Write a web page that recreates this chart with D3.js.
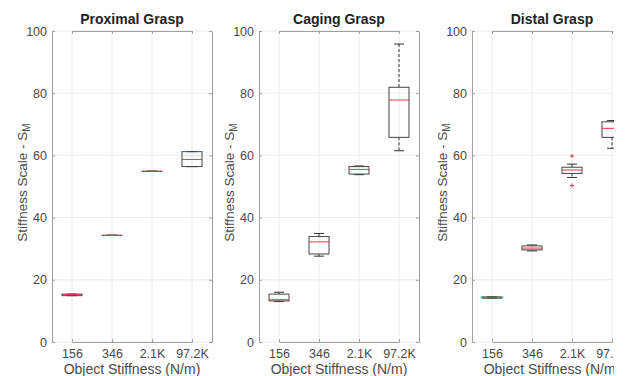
<!DOCTYPE html>
<html><head><meta charset="utf-8">
<script src="https://cdn.jsdelivr.net/npm/d3@7/dist/d3.min.js"></script>
<style>body{margin:0;background:#fff}svg{display:block;font-family:"Liberation Sans",Arial,sans-serif}</style>
</head><body><svg id="c" width="628" height="376"></svg>
<script>
const categories = ["156", "346", "2.1K", "97.2K"];
const panelTitles = ["Proximal Grasp", "Caging Grasp", "Distal Grasp"];
const yTicks = [0, 20, 40, 60, 80, 100];
// box statistics per panel, one entry per category
const proximalMin    = [14.9, 34.3, 54.9, 56.4];
const proximalQ1     = [14.9, 34.3, 54.9, 56.4];
const proximalMedian = [15.2, 34.3, 54.9, 58.7];
const proximalQ3     = [15.4, 34.3, 54.9, 61.2];
const proximalMax    = [15.4, 34.3, 54.9, 61.2];
const cagingMin    = [13.0, 27.6, 53.8, 61.5];
const cagingQ1     = [13.2, 28.3, 54.0, 65.8];
const cagingMedian = [13.6, 32.2, 55.5, 77.8];
const cagingQ3     = [15.4, 33.9, 56.4, 81.9];
const cagingMax    = [16.0, 34.9, 56.6, 95.8];
const distalMin    = [14.1, 29.3, 52.9, 62.3];
const distalQ1     = [14.1, 29.6, 54.2, 65.8];
const distalMedian = [14.3, 30.2, 55.3, 68.7];
const distalQ3     = [14.5, 30.9, 56.2, 70.8];
const distalMax    = [14.5, 31.2, 57.2, 71.2];
const distalOutliers = [[], [], [59.8, 50.3], []];

const panels = [
  {title: panelTitles[0], min: proximalMin, q1: proximalQ1, med: proximalMedian, q3: proximalQ3, max: proximalMax, out: [[],[],[],[]]},
  {title: panelTitles[1], min: cagingMin, q1: cagingQ1, med: cagingMedian, q3: cagingQ3, max: cagingMax, out: [[],[],[],[]]},
  {title: panelTitles[2], min: distalMin, q1: distalQ1, med: distalMedian, q3: distalQ3, max: distalMax, out: distalOutliers}
];

const svg = d3.select("#c");
svg.append("defs").append("clipPath").attr("id","pageclip")
  .append("rect").attr("x",0).attr("y",0).attr("width",614).attr("height",376);
const root = svg.append("g").attr("clip-path","url(#pageclip)");

const lefts = [52, 259, 472];
const W = 160, plotTop = 31, plotBottom = 342;
const y = d3.scaleLinear().domain([0, 100]).range([plotBottom, plotTop]);
const frameCol = "#a0a0a0", textCol = "#4a4a4a", gridCol = "#ececec";

panels.forEach((p, pi) => {
  const g = root.append("g").attr("transform", `translate(${lefts[pi]},0)`);
  const x = d3.scalePoint().domain(categories).range([20, W - 20]);
  const unit = x.step();
  // grid
  g.selectAll(".gy").data(yTicks).join("line")
    .attr("x1", 0).attr("x2", W).attr("y1", d => y(d)).attr("y2", d => y(d))
    .attr("stroke", gridCol).attr("stroke-width", 1);
  g.selectAll(".gx").data(categories).join("line")
    .attr("x1", d => x(d)).attr("x2", d => x(d)).attr("y1", plotTop).attr("y2", plotBottom)
    .attr("stroke", gridCol).attr("stroke-width", 1);
  // axes
  g.append("g").attr("transform", `translate(0,${plotBottom})`)
    .call(d3.axisBottom(x).tickSizeInner(-3).tickSizeOuter(0).tickPadding(7));
  g.append("g")
    .call(d3.axisLeft(y).tickValues(yTicks).tickSizeInner(-3).tickSizeOuter(0).tickPadding(5));
  g.append("g").attr("transform", `translate(0,${plotTop})`)
    .call(d3.axisTop(x).tickSizeInner(-3).tickSizeOuter(0).tickFormat(""));
  g.append("g").attr("transform", `translate(${W},0)`)
    .call(d3.axisRight(y).tickValues(yTicks).tickSizeInner(-3).tickSizeOuter(0).tickFormat(""));
  g.selectAll(".domain").attr("stroke", frameCol);
  g.selectAll(".tick line").attr("stroke", frameCol);
  g.selectAll(".tick text").attr("fill", textCol).attr("font-size", 12.5)
    .attr("font-family", "'Liberation Sans',Arial,sans-serif");
  // boxes
  const bw = unit * 0.5, cw = unit * 0.25;
  categories.forEach((c, i) => {
    const cx = x(c);
    const bg = g.append("g");
    bg.append("line").attr("x1", cx).attr("x2", cx).attr("y1", y(p.max[i])).attr("y2", y(p.q3[i]))
      .attr("stroke", "#333").attr("stroke-dasharray", "3,2");
    bg.append("line").attr("x1", cx).attr("x2", cx).attr("y1", y(p.q1[i])).attr("y2", y(p.min[i]))
      .attr("stroke", "#333").attr("stroke-dasharray", "3,2");
    [p.max[i], p.min[i]].forEach(v => {
      bg.append("line").attr("x1", cx - cw / 2).attr("x2", cx + cw / 2).attr("y1", y(v)).attr("y2", y(v))
        .attr("stroke", "#333");
    });
    bg.append("rect").attr("x", cx - bw / 2).attr("width", bw)
      .attr("y", y(p.q3[i])).attr("height", Math.max(0.01, y(p.q1[i]) - y(p.q3[i])))
      .attr("fill", "none").attr("stroke", "#444");
    bg.append("line").attr("x1", cx - bw / 2).attr("x2", cx + bw / 2)
      .attr("y1", y(p.med[i])).attr("y2", y(p.med[i])).attr("stroke", "#e23a48");
    p.out[i].forEach(v => {
      bg.append("path").attr("d", `M${cx-2},${y(v)}H${cx+2}M${cx},${y(v)-2}V${y(v)+2}`)
        .attr("stroke", "#e23a48").attr("stroke-width", 1);
    });
  });
  // title
  g.append("text").attr("x", W / 2).attr("y", 24).attr("text-anchor", "middle")
    .attr("font-weight", "bold").attr("font-size", 14).attr("fill", "#222").text(p.title);
  // x label
  g.append("text").attr("x", W / 2).attr("y", 374).attr("text-anchor", "middle")
    .attr("font-size", 14).attr("fill", textCol).text("Object Stiffness (N/m)");
  // y label
  const yl = g.append("text").attr("transform", `translate(-25,${(plotTop + plotBottom) / 2 - 4}) rotate(-90)`)
    .attr("text-anchor", "middle").attr("font-size", 13.5).attr("fill", textCol);
  yl.append("tspan").text("Stiffness Scale - S");
  yl.append("tspan").attr("font-size", 10).attr("dy", 3).text("M");
});
</script></body></html>
